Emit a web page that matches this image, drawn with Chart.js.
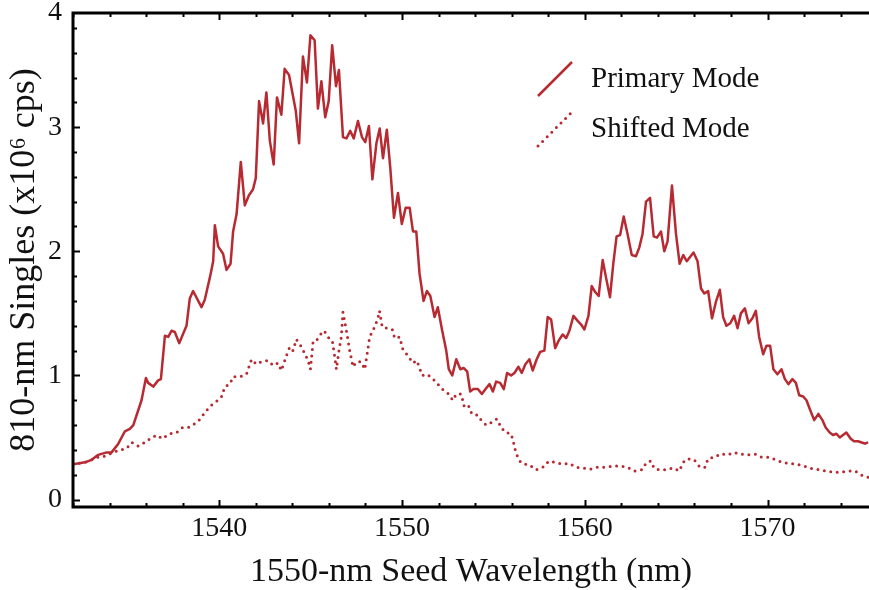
<!DOCTYPE html>
<html>
<head>
<meta charset="utf-8">
<script src="https://cdn.jsdelivr.net/npm/chart.js@4.4.0/dist/chart.umd.min.js"></script>
<style>
  html, body { margin: 0; padding: 0; background: #fff; }
  #wrap { width: 869px; height: 590px; }
</style>
</head>
<body>
<div id="wrap"><canvas id="singles"></canvas></div>
<script>
// seed wavelength (nm) and 810-nm singles (x10^6 cps), primary mode
const primaryNm = [
  1532.0, 1532.66, 1533.02, 1533.38, 1533.84, 1534.11, 1534.48, 1534.84, 1535.11, 1535.3,
  1535.75, 1535.99, 1536.11, 1536.39, 1536.66, 1536.81, 1537.03, 1537.21, 1537.39, 1537.57,
  1537.81, 1538.21, 1538.39, 1538.57, 1539.03, 1539.21, 1539.49, 1539.67, 1539.76, 1539.94,
  1540.21, 1540.4, 1540.62, 1540.76, 1540.95, 1541.18, 1541.4, 1541.62, 1541.85, 1542.0,
  1542.18, 1542.4, 1542.58, 1542.77, 1542.98, 1543.16, 1543.4, 1543.58, 1543.82, 1544.0,
  1544.19, 1544.37, 1544.58, 1544.8, 1544.99, 1545.22, 1545.4, 1545.59, 1545.8, 1545.99,
  1546.18, 1546.39, 1546.55, 1546.77, 1546.96, 1547.17, 1547.36, 1547.59, 1547.81, 1547.99,
  1548.19, 1548.38, 1548.6, 1548.78, 1548.96, 1549.17, 1549.36, 1549.56, 1549.78, 1549.99,
  1550.2, 1550.42, 1550.6, 1550.78, 1550.96, 1551.18, 1551.36, 1551.55, 1551.78, 1551.96,
  1552.2, 1552.42, 1552.56, 1552.75, 1552.97, 1553.19, 1553.37, 1553.57, 1553.73, 1553.91,
  1554.15, 1554.37, 1554.57, 1554.79, 1554.97, 1555.15, 1555.37, 1555.57, 1555.75, 1555.97,
  1556.15, 1556.37, 1556.55, 1556.75, 1556.97, 1557.15, 1557.37, 1557.56, 1557.79, 1557.97,
  1558.16, 1558.38, 1558.57, 1558.79, 1558.98, 1559.16, 1559.38, 1559.61, 1559.8, 1559.98,
  1560.2, 1560.38, 1560.58, 1560.76, 1560.98, 1561.16, 1561.38, 1561.56, 1561.74, 1561.93,
  1562.13, 1562.34, 1562.57, 1562.8, 1562.98, 1563.16, 1563.35, 1563.57, 1563.77, 1563.95,
  1564.17, 1564.35, 1564.53, 1564.77, 1564.99, 1565.19, 1565.39, 1565.58, 1565.79, 1565.95,
  1566.17, 1566.36, 1566.54, 1566.75, 1566.96, 1567.17, 1567.39, 1567.57, 1567.75, 1567.96,
  1568.17, 1568.36, 1568.54, 1568.76, 1568.96, 1569.17, 1569.36, 1569.54, 1569.76, 1569.94,
  1570.14, 1570.32, 1570.54, 1570.76, 1570.95, 1571.14, 1571.36, 1571.55, 1571.73, 1571.95,
  1572.13, 1572.31, 1572.55, 1572.78, 1573.0, 1573.18, 1573.4, 1573.58, 1573.77, 1573.95,
  1574.13, 1574.31, 1574.55, 1574.73, 1574.95, 1575.15, 1575.33, 1575.5
]
const primaryRate = [
  0.285, 0.30, 0.32, 0.36, 0.38, 0.38, 0.45, 0.55, 0.57, 0.60,
  0.80, 0.98, 0.94, 0.91, 0.96, 0.97, 1.32, 1.31, 1.36, 1.35,
  1.26, 1.40, 1.62, 1.68, 1.55, 1.61, 1.79, 1.92, 2.21, 2.04,
  1.98, 1.85, 1.90, 2.16, 2.30, 2.72, 2.37, 2.45, 2.50, 2.59,
  3.21, 3.03, 3.28, 2.89, 2.70, 3.24, 3.10, 3.47, 3.42, 3.28,
  3.13, 2.87, 3.57, 3.36, 3.74, 3.70, 3.15, 3.37, 3.08, 3.21,
  3.66, 3.33, 3.46, 2.92, 2.91, 2.97, 2.91, 3.05, 2.92, 2.88,
  3.01, 2.58, 2.87, 2.99, 2.75, 2.98, 2.67, 2.27, 2.47, 2.22,
  2.35, 2.35, 2.16, 2.16, 1.82, 1.60, 1.68, 1.64, 1.47, 1.55,
  1.36, 1.20, 1.05, 1.00, 1.13, 1.05, 1.06, 1.03, 0.87, 0.89,
  0.89, 0.85, 0.89, 0.93, 0.87, 0.95, 0.94, 0.89, 1.02, 1.00,
  1.02, 1.07, 1.02, 1.09, 1.13, 1.04, 1.13, 1.19, 1.20, 1.47,
  1.45, 1.22, 1.28, 1.33, 1.30, 1.36, 1.48, 1.44, 1.41, 1.37,
  1.48, 1.72, 1.67, 1.64, 1.93, 1.79, 1.63, 1.90, 2.12, 2.13,
  2.28, 2.14, 1.97, 1.96, 2.03, 2.14, 2.40, 2.43, 2.12, 2.11,
  2.16, 2.00, 2.08, 2.53, 2.14, 1.90, 1.97, 1.92, 1.96, 1.99,
  1.92, 1.70, 1.66, 1.68, 1.46, 1.59, 1.69, 1.47, 1.40, 1.42,
  1.48, 1.38, 1.50, 1.54, 1.42, 1.46, 1.52, 1.31, 1.17, 1.24,
  1.24, 1.05, 1.01, 1.05, 0.97, 0.93, 0.97, 0.94, 0.84, 0.83,
  0.80, 0.73, 0.64, 0.69, 0.64, 0.58, 0.54, 0.52, 0.53, 0.50,
  0.52, 0.54, 0.49, 0.47, 0.47, 0.46, 0.45, 0.46
]

// shifted mode
const shiftedNm = [
  1532.0, 1532.66, 1533.02, 1533.3, 1533.75, 1534.2, 1534.57, 1534.93, 1535.21, 1535.57,
  1535.93, 1536.3, 1536.61, 1536.88, 1537.3, 1537.67, 1537.99, 1538.3, 1538.57, 1538.9,
  1539.21, 1539.49, 1539.85, 1540.13, 1540.31, 1540.58, 1540.76, 1541.13, 1541.49, 1541.77,
  1542.04, 1542.31, 1542.67, 1542.95, 1543.22, 1543.4, 1543.68, 1543.86, 1544.04, 1544.22,
  1544.5, 1544.7, 1544.86, 1544.99, 1545.14, 1545.36, 1545.54, 1545.74, 1546.0, 1546.19,
  1546.32, 1546.41, 1546.55, 1546.68, 1546.77, 1546.96, 1547.14, 1547.32, 1547.5, 1547.78,
  1547.96, 1548.08, 1548.23, 1548.5, 1548.68, 1548.77, 1548.92, 1549.23, 1549.47, 1549.6,
  1549.87, 1550.05, 1550.32, 1550.6, 1550.81, 1551.11, 1551.33, 1551.56, 1551.84, 1552.2,
  1552.56, 1552.78, 1552.97, 1553.24, 1553.42, 1553.66, 1553.82, 1554.15, 1554.33, 1554.61,
  1554.88, 1555.19, 1555.43, 1555.66, 1555.97, 1556.1, 1556.21, 1556.39, 1556.57, 1556.97,
  1557.34, 1557.7, 1558.03, 1558.39, 1558.79, 1559.17, 1559.52, 1559.89, 1560.29, 1560.7,
  1561.16, 1561.52, 1561.93, 1562.34, 1562.71, 1563.13, 1563.38, 1563.62, 1563.8, 1564.08,
  1564.48, 1564.84, 1565.17, 1565.39, 1565.62, 1565.99, 1566.3, 1566.57, 1566.75, 1567.08,
  1567.45, 1567.81, 1568.17, 1568.54, 1568.96, 1569.32, 1569.69, 1570.09, 1570.45, 1570.81,
  1571.18, 1571.58, 1572.0, 1572.42, 1572.82, 1573.18, 1573.58, 1574.0, 1574.42, 1574.79,
  1575.22, 1575.5
]
const shiftedRate = [
  0.285, 0.30, 0.32, 0.34, 0.35, 0.38, 0.40, 0.41, 0.46, 0.43,
  0.46, 0.50, 0.52, 0.49, 0.53, 0.54, 0.58, 0.58, 0.60, 0.64,
  0.70, 0.75, 0.79, 0.83, 0.91, 0.93, 0.99, 0.99, 1.01, 1.13,
  1.09, 1.11, 1.12, 1.08, 1.10, 1.04, 1.16, 1.23, 1.20, 1.29,
  1.23, 1.17, 1.12, 1.05, 1.28, 1.29, 1.33, 1.36, 1.30, 1.28,
  1.15, 1.05, 1.20, 1.31, 1.51, 1.36, 1.20, 1.07, 1.11, 1.11,
  1.05, 1.16, 1.31, 1.39, 1.46, 1.52, 1.39, 1.38, 1.37, 1.30,
  1.31, 1.21, 1.16, 1.10, 1.12, 1.00, 1.01, 0.99, 0.95, 0.89,
  0.85, 0.80, 0.85, 0.85, 0.74, 0.75, 0.69, 0.68, 0.64, 0.60,
  0.62, 0.65, 0.58, 0.54, 0.53, 0.46, 0.39, 0.32, 0.29, 0.28,
  0.24, 0.26, 0.31, 0.30, 0.285, 0.29, 0.26, 0.255, 0.245, 0.26,
  0.26, 0.27, 0.27, 0.26, 0.23, 0.24, 0.30, 0.31, 0.25, 0.24,
  0.24, 0.255, 0.23, 0.30, 0.33, 0.32, 0.26, 0.26, 0.33, 0.34,
  0.37, 0.36, 0.38, 0.365, 0.36, 0.365, 0.34, 0.34, 0.32, 0.30,
  0.29, 0.285, 0.27, 0.25, 0.24, 0.23, 0.22, 0.22, 0.23, 0.23,
  0.19, 0.18
]

const seriesNames = ["Primary Mode", "Shifted Mode"]
const xTicks = [1540, 1550, 1560, 1570]
const yTicks = [0, 1, 2, 3, 4]

const RED = "#b72a31"
const SERIF = "'Liberation Serif', 'Times New Roman', serif"
const X_MIN = 1532, X_MAX = 1575.55
const Y_MIN = -0.06, Y_MAX = 3.92

const toPoints = (xs, ys) => xs.map((x, i) => ({ x: x, y: ys[i] }))

// Mathematica-style frame: thick border on three sides, ticks pointing inward
const frameTicks = {
  id: "frameTicks",
  afterDatasetsDraw(chart) {
    const { ctx, chartArea: a, scales: { x, y } } = chart
    ctx.save()
    ctx.strokeStyle = "#000"
    ctx.lineCap = "butt"

    ctx.lineWidth = 2
    ctx.beginPath()
    for (let v = Math.ceil(X_MIN / 2) * 2; v <= X_MAX; v += 2) {
      const px = Math.round(x.getPixelForValue(v)) + 0.5
      const len = v % 10 === 0 ? 7 : 4
      ctx.moveTo(px, a.bottom); ctx.lineTo(px, a.bottom - len)
      ctx.moveTo(px, a.top); ctx.lineTo(px, a.top + len)
    }
    for (let k = 0; k * 0.2 <= Y_MAX; k++) {
      const py = Math.round(y.getPixelForValue(k * 0.2)) + 0.5
      const len = k % 5 === 0 ? 7 : 4
      ctx.moveTo(a.left, py); ctx.lineTo(a.left + len, py)
    }
    ctx.stroke()

    ctx.lineWidth = 3
    ctx.beginPath()
    ctx.moveTo(a.right, a.top)
    ctx.lineTo(a.left, a.top)
    ctx.lineTo(a.left, a.bottom)
    ctx.lineTo(a.right, a.bottom)
    ctx.stroke()
    ctx.restore()
  }
}

// key in the upper right: slanted line sample followed by the series name
const slantKey = {
  id: "slantKey",
  afterDatasetsDraw(chart, args, opts) {
    const { ctx, chartArea: a } = chart
    ctx.save()
    chart.data.datasets.forEach((ds, i) => {
      const x0 = a.left + opts.left
      const yb = a.top + opts.top + i * opts.gap
      ctx.strokeStyle = ds.borderColor
      ctx.lineWidth = ds.borderWidth
      ctx.lineCap = ds.borderCapStyle || "butt"
      ctx.setLineDash(ds.borderDash || [])
      ctx.beginPath()
      ctx.moveTo(x0, yb)
      ctx.lineTo(x0 + opts.size, yb - opts.size)
      ctx.stroke()
      ctx.setLineDash([])
      ctx.fillStyle = "#111"
      ctx.font = opts.font
      ctx.textBaseline = "middle"
      ctx.fillText(ds.label, x0 + opts.size + 19, yb - opts.size / 2)
    })
    ctx.restore()
  }
}

new Chart(document.getElementById("singles"), {
  type: "line",
  data: {
    datasets: [
      {
        label: seriesNames[0],
        data: toPoints(primaryNm, primaryRate),
        borderColor: RED,
        borderWidth: 2.5,
        borderJoinStyle: "round",
        pointRadius: 0,
        tension: 0
      },
      {
        label: seriesNames[1],
        data: toPoints(shiftedNm, shiftedRate),
        borderColor: RED,
        borderWidth: 3,
        borderCapStyle: "round",
        borderDash: [0, 6.5],
        pointRadius: 0,
        tension: 0
      }
    ]
  },
  options: {
    responsive: true,
    maintainAspectRatio: false,
    animation: false,
    layout: { padding: { top: 13, right: 0, bottom: 0, left: 0 } },
    plugins: {
      legend: { display: false },
      tooltip: { enabled: false },
      slantKey: { left: 465, top: 83, gap: 50, size: 34, font: "29px " + SERIF }
    },
    scales: {
      x: {
        type: "linear",
        min: X_MIN,
        max: X_MAX,
        afterBuildTicks: (scale) => { scale.ticks = xTicks.map(v => ({ value: v })) },
        afterFit: (scale) => {
          scale.height = 83
          scale.paddingLeft = 0
          scale.paddingRight = 0
        },
        grid: { display: false, drawTicks: false },
        border: { display: false },
        ticks: {
          color: "#111",
          padding: 5,
          maxRotation: 0,
          callback: (v) => String(v),
          font: { family: SERIF, size: 28 }
        },
        title: {
          display: true,
          text: "1550-nm Seed Wavelength (nm)",
          color: "#111",
          font: { family: SERIF, size: 34, lineHeight: 1.0 },
          padding: { top: 0, bottom: 1 }
        }
      },
      y: {
        type: "linear",
        min: Y_MIN,
        max: Y_MAX,
        // the "4" label sits at the top edge of the frame
        afterBuildTicks: (scale) => { scale.ticks = yTicks.map(v => ({ value: Math.min(v, Y_MAX) })) },
        afterFit: (scale) => {
          scale.width = 73
          scale.paddingTop = 0
          scale.paddingBottom = 0
        },
        grid: { display: false, drawTicks: false },
        border: { display: false },
        ticks: {
          color: "#111",
          padding: 11,
          callback: (v) => String(Math.round(v)),
          font: { family: SERIF, size: 28 }
        },
        title: {
          display: true,
          text: "810-nm Singles (x10\u2076 cps)",
          color: "#111",
          font: { family: SERIF, size: 36, lineHeight: 1.0 },
          padding: { top: 7, bottom: 0 }
        }
      }
    }
  },
  plugins: [frameTicks, slantKey]
})
</script>
</body>
</html>
